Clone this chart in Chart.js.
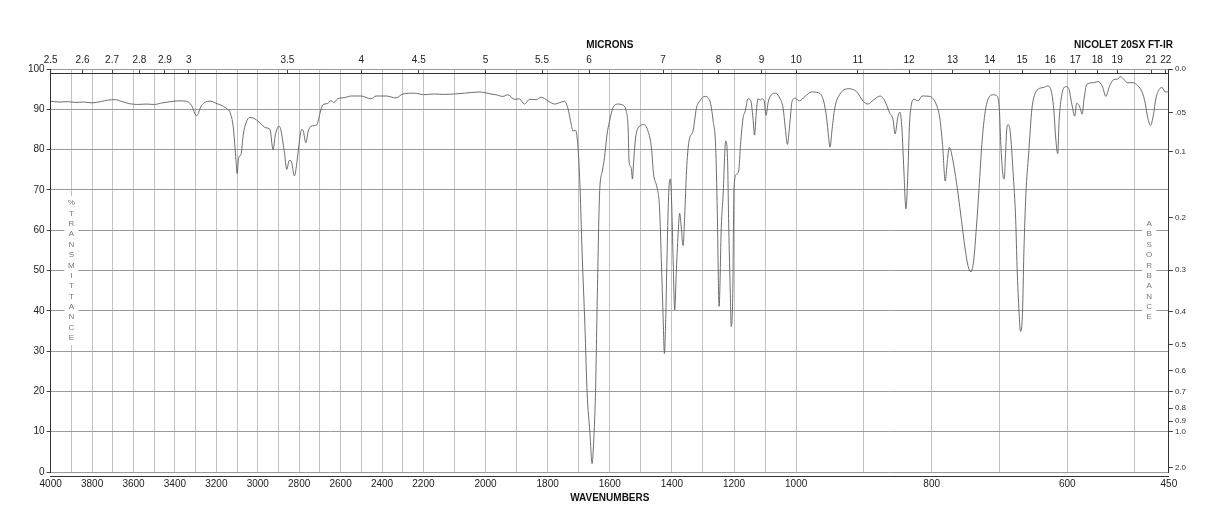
<!DOCTYPE html>
<html>
<head>
<meta charset="utf-8">
<script src="https://cdn.jsdelivr.net/npm/chart.js@4.4.1/dist/chart.umd.min.js"></script>
<style>
  html, body { margin: 0; padding: 0; background: #fff; }
  #wrap { width: 1218px; height: 528px; }
</style>
</head>
<body>
<div id="wrap"><canvas id="chart"></canvas></div>
<script>
// spectrum (cm-1 and %T)
const wavenumbers = [
  4000, 3960, 3920, 3880, 3840, 3800, 3760, 3720, 3690, 3660,
  3620, 3580, 3540, 3500, 3460, 3420, 3380, 3345, 3320, 3295,
  3275, 3259, 3226, 3202, 3154, 3130, 3118, 3105, 3100, 3092,
  3081, 3070, 3057, 3038, 3017, 2993, 2960, 2941, 2926, 2915,
  2896, 2872, 2860, 2848, 2839, 2823, 2810, 2799, 2788, 2780,
  2768, 2756, 2743, 2714, 2703, 2686, 2665, 2646, 2633, 2614,
  2580, 2549, 2501, 2453, 2428, 2380, 2332, 2300, 2243, 2200,
  2165, 2132, 2100, 2068, 2020, 1982, 1966, 1944, 1928, 1907,
  1891, 1875, 1858, 1837, 1821, 1799, 1778, 1756, 1746, 1735,
  1724, 1719, 1711, 1705, 1697, 1689, 1680, 1673, 1664, 1657,
  1652, 1646, 1640, 1633, 1624, 1617, 1609, 1601, 1590, 1574,
  1560, 1547, 1541, 1538, 1531, 1527, 1523, 1517, 1504, 1491,
  1477, 1466, 1459, 1448, 1440, 1434, 1429, 1424, 1420, 1416,
  1410, 1405, 1401, 1396, 1391, 1386, 1380, 1375, 1370, 1364,
  1359, 1353, 1345, 1332, 1321, 1311, 1294, 1278, 1267, 1259,
  1254, 1248, 1241, 1235, 1227, 1221, 1217, 1212, 1209, 1204,
  1200, 1192, 1185, 1179, 1171, 1164, 1155, 1146, 1139, 1134,
  1129, 1123, 1114, 1110, 1103, 1097, 1090, 1080, 1067, 1053,
  1042, 1035, 1028, 1021, 1013, 1002, 1000,
  995, 987, 977, 967, 960, 955, 952, 950, 947, 943,
  936, 923, 911, 901, 894, 886, 876, 869, 862, 857,
  854, 850, 847, 844, 841, 838, 835, 833, 830, 826,
  820, 814, 803, 793, 788, 784, 780, 777, 774, 771,
  766, 761, 756, 751, 746, 742, 738, 734, 730, 726,
  721, 716, 709, 703, 700, 698, 695, 693, 691, 689,
  687, 684, 680, 676, 674, 671, 669, 666, 664, 661,
  657, 652, 648, 641, 635, 629, 624, 620, 617, 614,
  612, 608, 602, 598, 593, 589, 586, 583, 581, 578,
  575, 571, 561, 554, 548, 543, 538, 532, 526, 521,
  517, 511, 503, 498, 491, 486, 481, 477, 473, 469,
  464, 460, 457, 452, 450
];
const transmittance = [
  92.0, 91.8, 91.9, 91.7, 91.8, 91.6, 91.9, 92.3, 92.4, 92.0,
  91.4, 91.2, 91.3, 91.2, 91.6, 91.9, 92.1, 92.0, 91.0, 88.4,
  90.6, 91.6, 92.0, 91.5, 90.3, 88.7, 85.4, 77.2, 74.1, 78.0,
  78.8, 83.7, 86.6, 88.0, 87.7, 86.8, 85.4, 85.0, 80.0, 83.7,
  85.8, 79.6, 75.1, 77.3, 77.2, 73.5, 77.2, 82.1, 85.0, 84.6,
  81.7, 84.6, 85.8, 86.2, 88.3, 91.1, 91.4, 92.1, 91.7, 92.6,
  92.9, 93.3, 93.3, 92.6, 93.3, 93.3, 92.8, 93.8, 94.0, 93.6,
  93.8, 93.7, 93.8, 94.0, 94.3, 93.8, 93.6, 93.2, 93.6, 92.5,
  92.6, 91.3, 92.5, 92.4, 93.0, 92.1, 91.3, 91.8, 92.0, 90.3,
  86.2, 84.6, 84.8, 82.9, 73.1, 54.2, 36.1, 19.7, 9.9, 2.1,
  7.4, 19.7, 44.3, 68.9, 74.7, 78.0, 83.7, 87.0, 90.3, 91.3,
  91.1, 89.5, 85.4, 77.2, 75.5, 72.7, 77.2, 82.9, 85.8, 86.2,
  84.6, 80.5, 73.9, 70.6, 65.7, 52.5, 40.2, 29.4, 37.8, 52.5,
  69.8, 72.7, 67.3, 52.5, 40.2, 49.3, 59.1, 64.2, 60.8, 56.2,
  63.2, 74.7, 82.1, 84.6, 90.3, 92.0, 93.2, 92.1, 87.0, 80.5,
  64.9, 41.1, 60.8, 68.9, 82.1, 78.0, 60.8, 44.3, 36.1, 44.3,
  70.6, 73.9, 74.7, 81.3, 87.8, 89.5, 92.6, 92.1, 87.8, 83.6,
  88.5, 92.6, 92.3, 92.6, 92.1, 88.5, 91.8, 93.6, 94.0, 92.8,
  90.3, 85.4, 81.3, 86.0, 92.0, 92.8, 92.6,
  92.1, 93.2, 94.3, 94.1, 92.4, 87.8, 82.9, 80.6, 85.0, 90.3,
  93.6, 95.1, 94.4, 92.0, 91.3, 92.3, 93.3, 92.0, 89.1, 87.4,
  83.9, 88.0, 89.3, 85.4, 74.7, 65.3, 74.7, 85.4, 91.1, 92.5,
  92.1, 93.3, 93.2, 91.1, 87.8, 81.3, 72.2, 77.0, 80.6, 79.2,
  74.7, 68.9, 62.4, 55.8, 50.9, 49.7, 52.5, 60.8, 70.6, 81.3,
  89.5, 92.8, 93.6, 93.2, 89.5, 81.3, 73.9, 72.7, 79.0, 85.4,
  86.2, 84.2, 74.7, 62.4, 50.9, 39.4, 34.9, 39.4, 54.2, 68.9,
  78.8, 90.3, 93.6, 95.2, 95.4, 95.8, 94.8, 90.3, 82.9, 79.0,
  87.0, 93.6, 95.6, 95.2, 91.1, 88.3, 91.5, 91.1, 90.3, 88.8,
  92.8, 96.2, 96.6, 96.9, 95.6, 93.2, 95.6, 97.3, 97.5, 98.1,
  97.5, 96.6, 96.6, 96.2, 94.8, 92.4, 87.8, 86.0, 88.5, 92.8,
  95.0, 95.4, 94.6, 94.3, 94.3
];

// the wavenumber axis is drawn in three equal-width pieces
const breaks = [4000, 2200, 1000, 450];
const waveLabels = [4000, 3800, 3600, 3400, 3200, 3000, 2800, 2600, 2400, 2200,
  2000, 1800, 1600, 1400, 1200, 1000, 800, 600, 450];
const micronLabels = [2.5, 2.6, 2.7, 2.8, 2.9, 3, 3.5, 4, 4.5, 5, 5.5, 6, 7, 8, 9, 10,
  11, 12, 13, 14, 15, 16, 17, 18, 19, 21, 22];
const absTicks = [0, 0.05, 0.1, 0.2, 0.3, 0.4, 0.5, 0.6, 0.7, 0.8, 0.9, 1.0, 2.0];
const absLabels = ['0.0', '.05', '0.1', '0.2', '0.3', '0.4', '0.5', '0.6', '0.7', '0.8', '0.9', '1.0', '2.0'];
const leftLetters = '%TRANSMITTANCE'.split('');
const rightLetters = 'ABSORBANCE'.split('');
const instrument = 'NICOLET 20SX FT-IR';

const FONT = '"Liberation Sans", Arial, Helvetica, sans-serif';
Chart.defaults.font.family = FONT;
Chart.defaults.color = '#222';

const datasets = [];
const scales = {};

for (let s = 0; s < 3; s++) {
  const hi = breaks[s], lo = breaks[s + 1];
  const pts = wavenumbers
    .map((w, i) => ({ x: w, y: transmittance[i] }))
    .filter(p => p.x <= hi && p.x >= lo);

  datasets.push({
    data: pts,
    xAxisID: 'x' + s,
    yAxisID: 'y',
    borderColor: '#5e5e5e',
    borderWidth: 0.9,
    pointRadius: 0,
    fill: false,
    cubicInterpolationMode: 'monotone'
  });

  const grid = [];
  for (let w = s === 0 ? hi : hi - 100; w >= lo; w -= 100) grid.push(w);
  if (s === 2) grid.push(450);

  scales['x' + s] = {
    type: 'linear', position: 'bottom', stack: 'bottom', stackWeight: 1,
    min: lo, max: hi, reverse: true,
    afterBuildTicks: sc => { sc.ticks = grid.map(v => ({ value: v })); },
    ticks: {
      autoSkip: false, maxRotation: 0, padding: 2, font: { size: 10 }, color: '#222',
      callback: v => waveLabels.includes(v) ? String(v) : ''
    },
    grid: { color: '#c2c2c2', drawTicks: false },
    border: { color: '#333', width: 1 },
    title: s === 1
      ? { display: true, text: 'WAVENUMBERS', color: '#111', font: { size: 10, weight: 'bold' }, padding: { top: 0, bottom: 0 } }
      : { display: false }
  };
}

// top boxes are laid out right to left, so add them in reverse
for (let s = 2; s >= 0; s--) {
  const hi = breaks[s], lo = breaks[s + 1];
  const mics = micronLabels.filter(m => {
    const w = 1e4 / m;
    return w >= lo && (s === 0 ? w <= hi : w < hi);
  });

  scales['t' + s] = {
    type: 'linear', position: 'top', stack: 'top', stackWeight: 1,
    min: lo, max: hi, reverse: true,
    afterBuildTicks: sc => { sc.ticks = mics.map(m => ({ value: 1e4 / m })); },
    ticks: {
      autoSkip: false, maxRotation: 0, padding: 3, font: { size: 10 }, color: '#222',
      callback: (v, i) => String(mics[i])
    },
    grid: { drawOnChartArea: false, drawTicks: true, tickLength: 4, color: '#444' },
    border: { color: '#333', width: 1 },
    title: s === 1
      ? { display: true, text: 'MICRONS', color: '#111', font: { size: 10, weight: 'bold' }, padding: { top: 0, bottom: 0 } }
      : { display: false }
  };
}

scales.y = {
  type: 'linear', position: 'left', min: 0, max: 100,
  ticks: { stepSize: 10, padding: 2, font: { size: 10 }, color: '#222' },
  grid: { color: '#9a9a9a', tickLength: 4, tickColor: '#444' },
  border: { color: '#333', width: 1 }
};

scales.abs = {
  type: 'linear', position: 'right', min: 0, max: 100,
  afterBuildTicks: sc => { sc.ticks = absTicks.map(a => ({ value: 100 * Math.pow(10, -a) })); },
  ticks: { autoSkip: false, padding: 2, font: { size: 8 }, color: '#333', callback: (v, i) => absLabels[i] },
  grid: { drawOnChartArea: false, tickLength: 4, color: '#444' },
  border: { color: '#333', width: 1 }
};

const sideLabels = {
  id: 'sideLabels',
  beforeDatasetsDraw(chart) {
    const { ctx, scales: sc } = chart;
    const yMid = sc.y.getPixelForValue(50);
    const step = 10.35;
    const cols = [
      { letters: leftLetters, x: sc.x0.getPixelForValue(3900) },
      { letters: rightLetters, x: sc.x2.getPixelForValue(479) }
    ];
    ctx.save();
    ctx.font = '8px ' + FONT;
    ctx.textAlign = 'center';
    ctx.textBaseline = 'middle';
    cols.forEach(c => {
      const y0 = yMid - (c.letters.length - 1) * step / 2;
      ctx.fillStyle = '#fff';
      ctx.fillRect(c.x - 7, y0 - 7, 14, (c.letters.length - 1) * step + 14);
      ctx.fillStyle = '#777';
      c.letters.forEach((ch, i) => ctx.fillText(ch, c.x, y0 + i * step));
    });
    ctx.restore();
  },
  afterDraw(chart) {
    const { ctx, chartArea, scales: sc } = chart;
    ctx.save();
    ctx.font = 'bold 10px ' + FONT;
    ctx.fillStyle = '#111';
    ctx.textAlign = 'right';
    ctx.textBaseline = 'middle';
    ctx.fillText(instrument, chartArea.right + 4, sc.t1.top + 6);
    ctx.restore();
  }
};

new Chart(document.getElementById('chart').getContext('2d'), {
  type: 'line',
  data: { datasets },
  options: {
    responsive: true,
    maintainAspectRatio: false,
    animation: false,
    layout: { padding: { top: 39, left: 26, right: 30, bottom: 32 } },
    plugins: { legend: { display: false }, tooltip: { enabled: false } },
    scales
  },
  plugins: [sideLabels]
});
</script>
</body>
</html>
